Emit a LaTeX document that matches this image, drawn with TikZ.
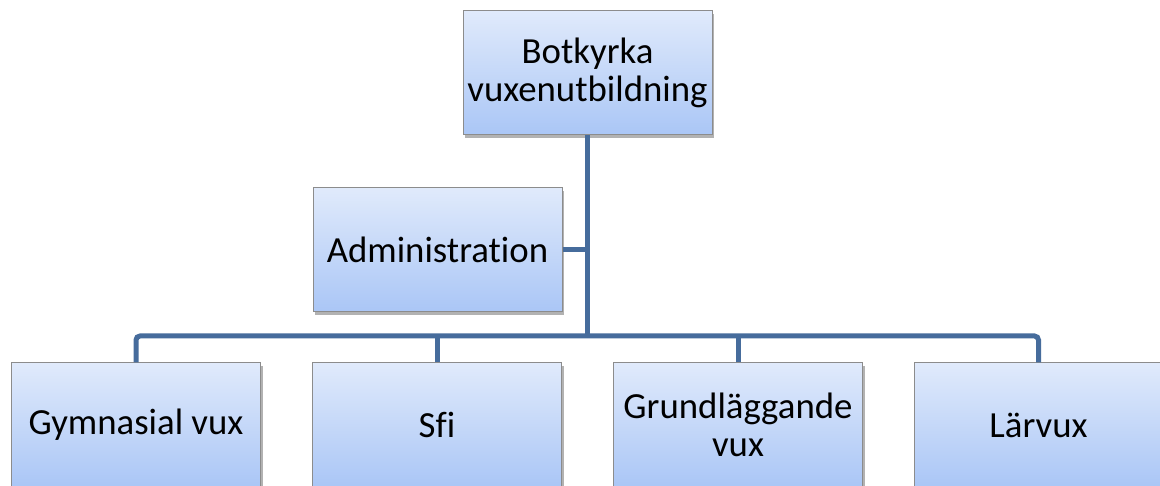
\documentclass[tikz,border=0pt]{standalone}
\usepackage{fontspec}
\setmainfont{Carlito}[Ligatures=NoCommon]
\usetikzlibrary{shadows,calc}
\definecolor{connblue}{RGB}{70,108,156}
\definecolor{boxtop}{RGB}{224,234,251}
\definecolor{boxbot}{RGB}{170,198,246}
\definecolor{boxedge}{RGB}{140,140,140}
\tikzset{
  orgbox/.style={draw=boxedge, line width=1pt, top color=boxtop, bottom color=boxbot,
    minimum width=249pt, minimum height=124pt, inner sep=0pt, align=center,
    font=\fontsize{36.8}{37.5}\selectfont,
    drop shadow={shadow xshift=2pt, shadow yshift=-3pt, opacity=0.3, fill=black}},
  conn/.style={draw=connblue, line width=5pt}
}
\begin{document}
\begin{tikzpicture}[x=1pt,y=-1pt]
\useasboundingbox (0,0) rectangle (1160,486);
\clip (0,0) rectangle (1160,486);
\fill[white] (0,0) rectangle (1160,486);
\coordinate (bar) at (587.5,336);
\node[orgbox] (top) at (587.5,73) {Botkyrka\\vuxenutbildning};
\node[orgbox] (adm) at (437.5,250) {Administration};
\node[orgbox] (b1) at (136,425) {Gymnasial vux};
\node[orgbox] (b2) at (437,425) {Sfi};
\node[orgbox] (b3) at (738,425) {Grundläggande\\vux};
\node[orgbox] (b4) at (1038.5,425) {Lärvux};
\draw[conn] (top.south) -- (bar);
\draw[conn] (adm.east) -- (adm.east -| bar);
\draw[conn, rounded corners=4pt] (b1.north) |- (bar) -| (b4.north);
\draw[conn] (b2.north) -- (b2.north |- bar);
\draw[conn] (b3.north) -- (b3.north |- bar);
\end{tikzpicture}
\end{document}
